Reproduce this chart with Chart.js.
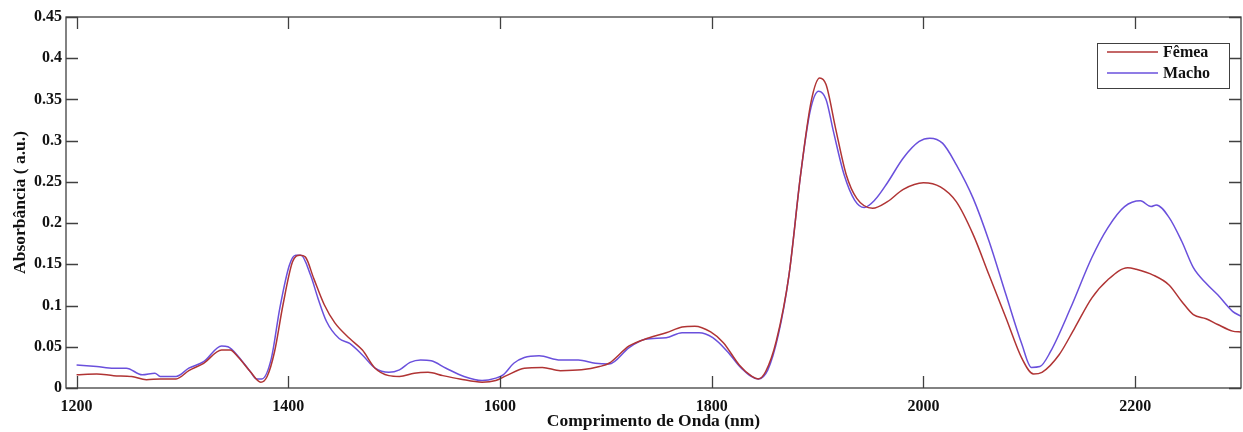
<!DOCTYPE html>
<html>
<head>
<meta charset="utf-8">
<script src="https://cdn.jsdelivr.net/npm/chart.js@4/dist/chart.umd.min.js"></script>
<style>
  html, body { margin: 0; padding: 0; background: #fff; }
  #wrap { width: 1243px; height: 432px; }
</style>
</head>
<body>
<div id="wrap"><canvas id="chart" width="1243" height="432"></canvas></div>
<script>
// wavelength (nm) / absorbance
const femeaNm = [1200, 1219, 1235, 1252, 1266, 1279, 1294, 1306, 1320, 1337, 1345, 1353, 1364, 1374, 1380, 1387, 1395, 1404, 1411, 1416, 1424, 1434, 1444, 1458, 1470, 1482, 1495, 1505, 1519, 1532, 1546, 1562, 1583, 1596, 1606, 1623, 1640, 1657, 1677, 1694, 1703, 1722, 1741, 1757, 1772, 1784, 1799, 1811, 1826, 1838, 1844, 1851, 1861, 1873, 1884, 1894, 1902, 1908, 1917, 1927, 1937, 1952, 1966, 1981, 2000, 2016, 2031, 2047, 2062, 2078, 2093, 2104, 2112, 2128, 2143, 2159, 2174, 2193, 2201, 2217, 2232, 2244, 2255, 2267, 2278, 2292, 2300];
const femeaAbs = [0.016, 0.017, 0.015, 0.014, 0.010, 0.011, 0.011, 0.021, 0.030, 0.046, 0.046, 0.037, 0.020, 0.007, 0.014, 0.044, 0.101, 0.153, 0.161, 0.159, 0.133, 0.101, 0.079, 0.060, 0.046, 0.024, 0.015, 0.014, 0.018, 0.019, 0.015, 0.011, 0.007, 0.009, 0.015, 0.024, 0.025, 0.021, 0.022, 0.026, 0.030, 0.051, 0.061, 0.067, 0.074, 0.075, 0.068, 0.055, 0.028, 0.014, 0.011, 0.020, 0.057, 0.137, 0.259, 0.348, 0.376, 0.368, 0.315, 0.259, 0.230, 0.218, 0.226, 0.241, 0.249, 0.244, 0.226, 0.186, 0.137, 0.085, 0.036, 0.017, 0.019, 0.040, 0.073, 0.109, 0.131, 0.146, 0.144, 0.137, 0.125, 0.105, 0.089, 0.084, 0.077, 0.069, 0.068];

const machoNm = [1200, 1219, 1235, 1247, 1262, 1274, 1279, 1294, 1306, 1320, 1337, 1343, 1353, 1364, 1370, 1375, 1384, 1392, 1401, 1407, 1412, 1421, 1428, 1436, 1448, 1458, 1470, 1482, 1495, 1505, 1515, 1525, 1535, 1549, 1566, 1583, 1596, 1603, 1613, 1623, 1637, 1657, 1674, 1690, 1703, 1722, 1737, 1757, 1772, 1788, 1801, 1815, 1828, 1844, 1853, 1863, 1873, 1884, 1893, 1901, 1908, 1915, 1925, 1935, 1944, 1954, 1966, 1981, 1996, 2006, 2018, 2031, 2047, 2062, 2078, 2093, 2102, 2110, 2120, 2139, 2159, 2174, 2190, 2205, 2215, 2220, 2232, 2244, 2255, 2267, 2278, 2292, 2300];
const machoAbs = [0.028, 0.026, 0.024, 0.024, 0.016, 0.018, 0.014, 0.014, 0.024, 0.032, 0.051, 0.050, 0.038, 0.020, 0.011, 0.011, 0.036, 0.097, 0.149, 0.161, 0.161, 0.137, 0.109, 0.081, 0.060, 0.054, 0.040, 0.024, 0.019, 0.022, 0.031, 0.034, 0.033, 0.024, 0.014, 0.009, 0.012, 0.016, 0.030, 0.037, 0.039, 0.034, 0.034, 0.030, 0.029, 0.049, 0.059, 0.061, 0.067, 0.067, 0.061, 0.044, 0.024, 0.011, 0.022, 0.065, 0.137, 0.259, 0.336, 0.360, 0.350, 0.311, 0.259, 0.228, 0.219, 0.228, 0.249, 0.279, 0.299, 0.303, 0.297, 0.271, 0.230, 0.178, 0.113, 0.053, 0.025, 0.026, 0.044, 0.097, 0.158, 0.194, 0.220, 0.227, 0.220, 0.222, 0.207, 0.178, 0.146, 0.127, 0.113, 0.093, 0.087];

const xTicks = [1200, 1400, 1600, 1800, 2000, 2200];
const yTicks = [0, 0.05, 0.1, 0.15, 0.2, 0.25, 0.3, 0.35, 0.4, 0.45];

const FONT = "'Liberation Serif', 'Times New Roman', serif";
const AXIS = "#404040";

function pts(xs, ys) {
  return xs.map((x, i) => ({ x: x, y: ys[i] }));
}

// box + inward ticks + legend, like the matlab figure
const boxPlugin = {
  id: "box",
  afterDraw(chart) {
    const ctx = chart.ctx;
    const a = chart.chartArea;
    const xs = chart.scales.x;
    const ys = chart.scales.y;
    const tl = 12;
    ctx.save();
    ctx.strokeStyle = AXIS;
    ctx.lineWidth = 1.3;
    ctx.strokeRect(a.left, a.top, a.right - a.left, a.bottom - a.top);
    ctx.beginPath();
    xTicks.forEach(v => {
      const px = Math.round(xs.getPixelForValue(v)) + 0.5;
      ctx.moveTo(px, a.bottom); ctx.lineTo(px, a.bottom - tl);
      ctx.moveTo(px, a.top); ctx.lineTo(px, a.top + tl);
    });
    yTicks.forEach(v => {
      const py = Math.round(ys.getPixelForValue(v)) + 0.5;
      ctx.moveTo(a.left, py); ctx.lineTo(a.left + tl, py);
      ctx.moveTo(a.right, py); ctx.lineTo(a.right - tl, py);
    });
    ctx.stroke();

    // legend
    const lx = 1097, ly = 43, lw = 132, lh = 45;
    ctx.fillStyle = "#fff";
    ctx.fillRect(lx, ly, lw, lh);
    ctx.strokeStyle = AXIS;
    ctx.lineWidth = 1;
    ctx.strokeRect(lx + 0.5, ly + 0.5, lw, lh);
    ctx.font = "bold 16px " + FONT;
    ctx.textBaseline = "middle";
    chart.data.datasets.forEach((ds, i) => {
      const yy = ly + 9 + i * 21;
      ctx.strokeStyle = ds.borderColor;
      ctx.lineWidth = 1.5;
      ctx.beginPath();
      ctx.moveTo(lx + 10, yy); ctx.lineTo(lx + 61, yy);
      ctx.stroke();
      ctx.fillStyle = "#111";
      ctx.fillText(ds.label, lx + 66, yy + 1);
    });
    ctx.restore();
  }
};

new Chart("chart", {
  type: "line",
  data: {
    datasets: [
      {
        label: "Fêmea",
        data: pts(femeaNm, femeaAbs),
        borderColor: "#b03434",
        borderWidth: 1.5,
        pointRadius: 0,
        cubicInterpolationMode: "monotone",
        fill: false
      },
      {
        label: "Macho",
        data: pts(machoNm, machoAbs),
        borderColor: "#6a50dc",
        borderWidth: 1.5,
        pointRadius: 0,
        cubicInterpolationMode: "monotone",
        fill: false
      }
    ]
  },
  options: {
    responsive: false,
    animation: false,
    layout: { padding: { top: 17, right: 2, left: 0, bottom: 0 } },
    plugins: { legend: { display: false }, tooltip: { enabled: false } },
    scales: {
      x: {
        type: "linear",
        min: 1190,
        max: 2300,
        afterBuildTicks: s => { s.ticks = xTicks.map(v => ({ value: v })); },
        afterFit: s => { s.height = 44; },
        grid: { display: false, drawTicks: false },
        border: { display: false },
        ticks: {
          color: "#111",
          padding: 9,
          font: { family: FONT, size: 16, weight: "bold" },
          callback: v => String(v)
        },
        title: {
          display: true,
          text: "Comprimento de Onda (nm)",
          color: "#111",
          padding: { top: 0, bottom: 0 },
          font: { family: FONT, size: 17.5, weight: "bold" }
        }
      },
      y: {
        min: 0,
        max: 0.45,
        afterBuildTicks: s => { s.ticks = yTicks.map(v => ({ value: v })); },
        afterFit: s => { s.width = 66; },
        grid: { display: false, drawTicks: false },
        border: { display: false },
        ticks: {
          color: "#111",
          padding: 4,
          font: { family: FONT, size: 16, weight: "bold" },
          callback: v => String(Number(v.toFixed(2)))
        },
        title: {
          display: true,
          text: "Absorbância ( a.u.)",
          color: "#111",
          padding: { top: 10, bottom: 0 },
          font: { family: FONT, size: 17.5, weight: "bold" }
        }
      }
    }
  },
  plugins: [boxPlugin]
});
</script>
</body>
</html>
